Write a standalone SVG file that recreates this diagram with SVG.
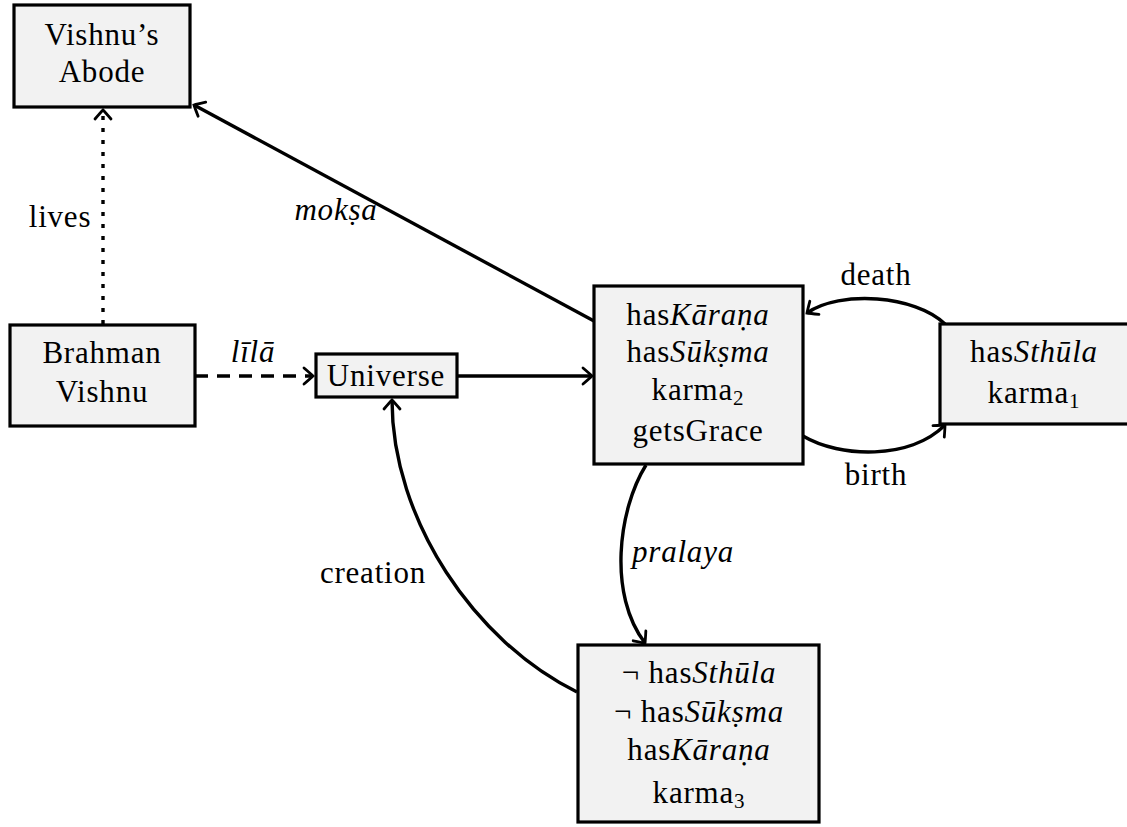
<svg xmlns="http://www.w3.org/2000/svg" width="1127" height="827" viewBox="0 0 1127 827">
<style>
.box{fill:#f2f2f2;stroke:#000;stroke-width:3.2}
text{font-family:"Liberation Serif","Times New Roman",serif;font-size:31px;letter-spacing:0.8px;fill:#000;text-anchor:middle}
.it{font-style:italic}
.sub{font-size:21px}
.edge{fill:none;stroke:#000;stroke-width:3.4}
</style>
<defs>
<marker id="arr" markerUnits="userSpaceOnUse" markerWidth="20" markerHeight="20" viewBox="-12 -10 14 20" refX="0" refY="0" orient="auto">
<path d="M-9,-8 Q-2,-2 0,0 Q-2,2 -9,8" fill="none" stroke="#000" stroke-width="2.8" stroke-linecap="round"/>
</marker>
</defs>
<rect width="1127" height="827" fill="#fff"/>
<g id="connectors">
<path class="edge" d="M103,324 L103,110" stroke-dasharray="4 8" stroke-width="4" marker-end="url(#arr)"/>
<path class="edge" d="M594,321 L194,105" marker-end="url(#arr)"/>
<path class="edge" d="M195,376 L313,376" stroke-dasharray="13 9" marker-end="url(#arr)"/>
<path class="edge" d="M458,376 L592,376" marker-end="url(#arr)"/>
<path class="edge" d="M945,324 C915,295 840,290 807,313" marker-end="url(#arr)"/>
<path class="edge" d="M803,436 C840,458 910,460 945,425" marker-end="url(#arr)"/>
<path class="edge" d="M646,465 C618,510 608,595 645,643" marker-end="url(#arr)"/>
<path class="edge" d="M577,692 C475,642 392,520 392,400" marker-end="url(#arr)"/>
<text x="60" y="227">lives</text>
<text x="336" y="220" class="it">mokṣa</text>
<text x="253" y="362" class="it">līlā</text>
<text x="876" y="285">death</text>
<text x="876" y="485">birth</text>
<text x="683" y="562" class="it">pralaya</text>
<text x="373" y="583">creation</text>
</g>
<g id="abode">
<rect class="box" x="14" y="5" width="176" height="102"/>
<text x="102" y="45">Vishnu’s</text>
<text x="102" y="82">Abode</text>
</g>
<g id="brahman">
<rect class="box" x="10" y="325" width="185" height="101"/>
<text x="102" y="363">Brahman</text>
<text x="102" y="402">Vishnu</text>
</g>
<g id="universe">
<rect class="box" x="316" y="354" width="141" height="43"/>
<text x="386" y="386">Universe</text>
</g>
<g id="subtle">
<rect class="box" x="594" y="286" width="209" height="178"/>
<text x="698" y="325">has<tspan class="it">Kāraṇa</tspan></text>
<text x="698" y="362">has<tspan class="it">Sūkṣma</tspan></text>
<text x="698" y="400">karma<tspan class="sub" dy="5">2</tspan></text>
<text x="698" y="441">getsGrace</text>
</g>
<g id="gross">
<rect class="box" x="940" y="324" width="190" height="100"/>
<text x="1034" y="362">has<tspan class="it">Sthūla</tspan></text>
<text x="1034" y="403">karma<tspan class="sub" dy="5">1</tspan></text>
</g>
<g id="causal">
<rect class="box" x="578" y="645" width="241" height="177"/>
<text x="699" y="683">¬ has<tspan class="it">Sthūla</tspan></text>
<text x="699" y="722">¬ has<tspan class="it">Sūkṣma</tspan></text>
<text x="699" y="760">has<tspan class="it">Kāraṇa</tspan></text>
<text x="699" y="803">karma<tspan class="sub" dy="5">3</tspan></text>
</g>
</svg>
